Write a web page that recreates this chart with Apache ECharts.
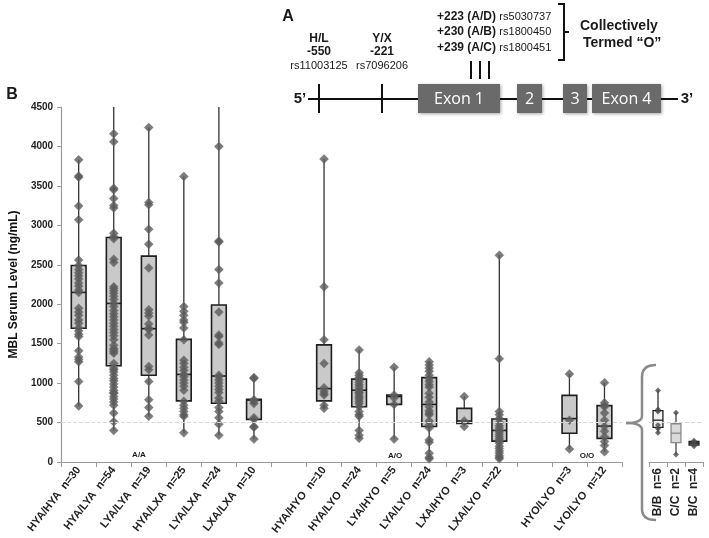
<!DOCTYPE html>
<html><head><meta charset="utf-8">
<script src="https://cdn.jsdelivr.net/npm/echarts@6/dist/echarts.min.js"></script>
<style>html,body{margin:0;padding:0;background:#fff}#c{width:709px;height:538px}</style>
</head><body><div id="c"></div>
<script>
// ---- data ----
const genotypes = ['HYA/HYA','HYA/LYA','LYA/LYA','HYA/LXA','LYA/LXA','LXA/LXA','',
  'HYA/HYO','HYA/LYO','LYA/HYO','LYA/LYO','LXA/HYO','LXA/LYO','','HYO/LYO','LYO/LYO'];
const counts = [30,54,19,25,24,10,null,10,24,5,24,3,22,null,3,12];
// [min, Q1, median, Q3, max]
const boxStats = [
  [710,1695,2150,2490,3830],
  [400,1220,2010,2845,4500],
  [580,1100,1690,2610,4240],
  [370,775,1110,1555,3620],
  [340,745,1090,1990,4500],
  [290,540,785,795,1070],
  null,
  [680,775,930,1485,3840],
  [300,700,910,1050,1420],
  [290,730,830,850,1200],
  [40,450,730,1070,1270],
  [450,490,520,680,830],
  [40,265,400,545,2620],
  null,
  [165,365,550,845,1115],
  [130,300,455,715,1005]
];
const points = [
  [3830,3625,3610,3245,3070,2560,2490,2440,2400,2360,2320,2270,2230,2180,2150,1950,1900,1860,1800,1760,1700,1660,1620,1590,1410,1330,1300,1270,1020,710],
  [4160,4060,3470,3450,3340,3250,3220,2900,2860,2830,2570,2530,2220,2200,2170,2140,2100,2060,2010,1970,1920,1880,1840,1800,1760,1720,1680,1640,1600,1550,1480,1440,1420,1400,1380,1250,1190,1170,1140,1100,1060,1030,990,950,910,880,870,830,800,760,720,620,510,400],
  [4240,3290,3260,2950,2760,2460,1930,1890,1850,1750,1700,1680,1610,1210,1170,1020,790,690,580],
  [3620,1970,1910,1860,1800,1770,1700,1550,1290,1250,1200,1160,1110,1080,1040,1000,960,910,770,720,680,640,600,580,370],
  [4000,2800,2790,2440,2270,1900,1610,1590,1510,1490,1100,1080,1040,1000,960,920,880,810,770,690,640,560,480,340],
  [1070,1060,790,770,740,560,540,450,440,290],
  [],
  [3840,2220,1550,1250,940,900,870,850,720,680],
  [1420,1130,1100,1070,1040,1010,980,950,920,900,880,870,840,820,800,770,740,700,640,600,580,400,340,300],
  [1200,850,810,730,290],
  [1270,1230,1190,1150,1100,1060,1020,980,950,870,820,760,700,650,620,600,520,470,430,280,250,110,60,40],
  [830,520,450],
  [2620,1310,640,600,550,500,460,430,400,380,350,320,290,270,240,200,170,140,110,80,60,40],
  [],
  [1115,530,165],
  [1005,750,720,700,620,530,450,390,320,260,210,130]
];
const insetGenotypes = ['B/B','C/C','B/C'];
const insetCounts = [6,2,4];
const insetBoxStats = [
  [370,440,530,650,905],
  [95,245,365,485,625],
  [200,215,240,260,270]
];
const insetPoints = [
  [905,665,640,470,420,370],
  [625,95],
  [270,250,225,200]
];
const yMin = 0, yMax = 4500, yStep = 500;
const refLevel = 500;

// ---- build ----
const FONT = '"Liberation Sans", Arial, sans-serif';
const xLabels = genotypes.map((g,i)=> g ? g + '  n=' + counts[i] : '');
const insetLabels = insetGenotypes.map((g,i)=> g + '  n=' + insetCounts[i]);

const boxData = [];
boxStats.forEach((b,i)=>{ if(b) boxData.push([i].concat(b)); });
const ptData = [];
points.forEach((arr,i)=> arr.forEach(v=> ptData.push([i, v])));
const insetBoxData = insetBoxStats.map((b,i)=>[i].concat(b));
const insetPtData = [];
insetPoints.forEach((arr,i)=> arr.forEach(v=> insetPtData.push([i, v])));

const insetStyles = [
  {fill:'#f2f2f2', stroke:'#222', whisker:'#333'},
  {fill:'#dadada', stroke:'#8a8a8a', whisker:'#444'},
  {fill:'#777', stroke:'#222', whisker:'#333'}
];

function makeRender(widthFrac, styleFn){
  return function(params, api){
    const x = api.value(0);
    const pMin = api.coord([x, api.value(1)]);
    const pQ1 = api.coord([x, api.value(2)]);
    const pMed = api.coord([x, api.value(3)]);
    const pQ3 = api.coord([x, api.value(4)]);
    const pMax = api.coord([x, api.value(5)]);
    const w = api.size([1,0])[0] * widthFrac;
    const st = styleFn(params.dataIndex);
    return {type:'group', children:[
      {type:'line', shape:{x1:pMin[0], y1:pMin[1], x2:pMax[0], y2:pMax[1]}, style:{stroke:st.whisker, lineWidth:1.3}},
      {type:'rect', shape:{x:pQ3[0]-w/2, y:pQ3[1], width:w, height:pQ1[1]-pQ3[1]}, style:{fill:st.fill, stroke:st.stroke, lineWidth:st.lw||1.6}},
      {type:'line', shape:{x1:pMed[0]-w/2, y1:pMed[1], x2:pMed[0]+w/2, y2:pMed[1]}, style:{stroke:st.stroke, lineWidth:st.lw||1.6}}
    ]};
  };
}

const T = (text, x, y, opt) => ({type:'text', x:x, y:y, z:10,
  style:Object.assign({text:text, fill:'#1a1a1a', font:'bold 12px '+FONT, align:'center', verticalAlign:'middle'}, opt||{})});
const L = (x1,y1,x2,y2,w,c) => ({type:'line', z:5, shape:{x1,y1,x2,y2}, style:{stroke:c||'#111', lineWidth:w||2}});
const B = (x1,y1,cx,cy,x2,y2,w,c) => ({type:'bezierCurve', z:5, shape:{x1,y1,x2,y2,cpx1:cx,cpy1:cy}, style:{stroke:c, lineWidth:w, fill:null}});
const exon = (x,w,label) => [
  {type:'rect', z:6, shape:{x:x, y:84, width:w, height:29}, style:{fill:'#6a6a6a', shadowBlur:3, shadowColor:'rgba(0,0,0,0.35)', shadowOffsetX:1, shadowOffsetY:1}},
  T(label, x+w/2, 99, {fill:'#fff', font:'16px "Open Sans", '+FONT})
];
const rich = {b:{font:'bold 12px '+FONT, fill:'#1a1a1a'}, r:{font:'11px '+FONT, fill:'#1a1a1a'}};
const BC = '#8a8a8a';

const graphics = [
  T('A', 288, 17, {font:'bold 16px '+FONT}),
  T('B', 12, 95, {font:'bold 16px '+FONT}),
  T('H/L', 319, 39), T('-550', 319, 52), T('rs11003125', 319, 66, {font:'11px '+FONT}),
  T('Y/X', 382, 39), T('-221', 382, 52), T('rs7096206', 382, 66, {font:'11px '+FONT}),
  {type:'text', x:437, y:17, z:10, style:{text:'{b|+223 (A/D)} {r|rs5030737}', rich:rich, align:'left', verticalAlign:'middle'}},
  {type:'text', x:437, y:32, z:10, style:{text:'{b|+230 (A/B)} {r|rs1800450}', rich:rich, align:'left', verticalAlign:'middle'}},
  {type:'text', x:437, y:48, z:10, style:{text:'{b|+239 (A/C)} {r|rs1800451}', rich:rich, align:'left', verticalAlign:'middle'}},
  {type:'polyline', z:5, shape:{points:[[558,4],[564,4],[564,60],[558,60]]}, style:{stroke:'#111', lineWidth:2, fill:null}},
  L(564,32,569,32,2),
  T('Collectively', 580, 26, {font:'bold 14px '+FONT, align:'left'}),
  T('Termed \u201CO\u201D', 583, 43, {font:'bold 14px '+FONT, align:'left'}),
  T('5\u2019', 300, 99, {font:'bold 15px '+FONT}),
  T('3\u2019', 687, 99, {font:'bold 15px '+FONT}),
  L(308,99,678,99,2),
  L(319,84,319,113,2), L(382,84,382,113,2),
  L(471,61,471,79,2), L(480,61,480,79,2), L(489,61,489,79,2)
].concat(exon(418,82,'Exon 1'), exon(517,25,'2'), exon(563,24,'3'), exon(592,69,'Exon 4'), [
  T('A/A', 139, 455, {font:'bold 8px '+FONT}),
  T('A/O', 395, 456, {font:'bold 8px '+FONT}),
  T('O/O', 587, 456, {font:'bold 8px '+FONT}),
  B(656,365,642,365,642,377,2.5,BC),
  L(642,377,642,416,2.5,BC),
  B(642,416,642,423,626,423,2.5,BC),
  B(626,423,642,423,642,430,2.5,BC),
  L(642,430,642,509,2.5,BC),
  B(642,509,642,520,656,520,2.5,BC)
]);

const chart = echarts.init(document.getElementById('c'), null, {renderer:'canvas'});
chart.setOption({
  animation:false,
  backgroundColor:'#fff',
  grid:[{left:58, right:87, top:107, bottom:76}, {left:649, right:6, top:107, bottom:76}],
  xAxis:[
    {type:'category', gridIndex:0, data:xLabels, boundaryGap:true,
     axisLine:{lineStyle:{color:'#9a9a9a', width:1.2}},
     axisTick:{show:true, interval:0, length:5, lineStyle:{color:'#9a9a9a'}},
     axisLabel:{interval:0, rotate:52, fontSize:11, fontWeight:'bold', color:'#222', fontFamily:FONT, margin:6},
     splitLine:{show:false}},
    {type:'category', gridIndex:1, data:insetLabels, boundaryGap:true,
     axisLine:{lineStyle:{color:'#9a9a9a', width:1.2}},
     axisTick:{show:true, interval:0, length:5, lineStyle:{color:'#9a9a9a'}},
     axisLabel:{interval:0, rotate:90, fontSize:12, fontWeight:'bold', color:'#222', fontFamily:FONT, margin:6},
     splitLine:{show:false}}
  ],
  yAxis:[
    {type:'value', gridIndex:0, min:yMin, max:yMax, interval:yStep,
     name:'MBL Serum Level (ng/mL)', nameLocation:'middle', nameGap:41,
     nameTextStyle:{fontSize:12, fontWeight:'bold', color:'#111', fontFamily:FONT},
     axisLine:{show:true, lineStyle:{color:'#9a9a9a', width:1.2}},
     axisTick:{show:true, length:4, lineStyle:{color:'#9a9a9a'}},
     axisLabel:{fontSize:10, fontWeight:'bold', color:'#222', fontFamily:FONT, margin:8, formatter:(v)=>String(v)},
     splitLine:{show:false}},
    {type:'value', gridIndex:1, min:yMin, max:yMax, interval:yStep, show:false, splitLine:{show:false}}
  ],
  series:[
    {type:'line', xAxisIndex:0, yAxisIndex:0, data:[], z:1,
     markLine:{silent:true, symbol:'none', label:{show:false}, data:[{yAxis:refLevel}], lineStyle:{color:'#d8d8d8', type:'dashed', width:1}}},
    {type:'line', xAxisIndex:1, yAxisIndex:1, data:[], z:1,
     markLine:{silent:true, symbol:'none', label:{show:false}, data:[{yAxis:refLevel}], lineStyle:{color:'#d8d8d8', type:'dashed', width:1}}},
    {type:'custom', xAxisIndex:0, yAxisIndex:0, data:boxData, z:2,
     encode:{x:0, y:[1,2,3,4,5]},
     renderItem:makeRender(0.42, ()=>({fill:'#c9c9c9', stroke:'#1e1e1e', whisker:'#333'}))},
    {type:'scatter', xAxisIndex:0, yAxisIndex:0, data:ptData, z:3, symbol:'diamond', symbolSize:9,
     itemStyle:{color:'#5a5a5a', borderColor:'#6e6e6e', borderWidth:0.5}},
    {type:'custom', xAxisIndex:1, yAxisIndex:1, data:insetBoxData, z:2,
     encode:{x:0, y:[1,2,3,4,5]},
     renderItem:makeRender(0.55, (i)=>Object.assign({lw:1.3}, insetStyles[i]))},
    {type:'scatter', xAxisIndex:1, yAxisIndex:1, data:insetPtData, z:3, symbol:'diamond', symbolSize:6,
     itemStyle:{color:'#4a4a4a'}}
  ],
  graphic: graphics
});
</script>
</body></html>
